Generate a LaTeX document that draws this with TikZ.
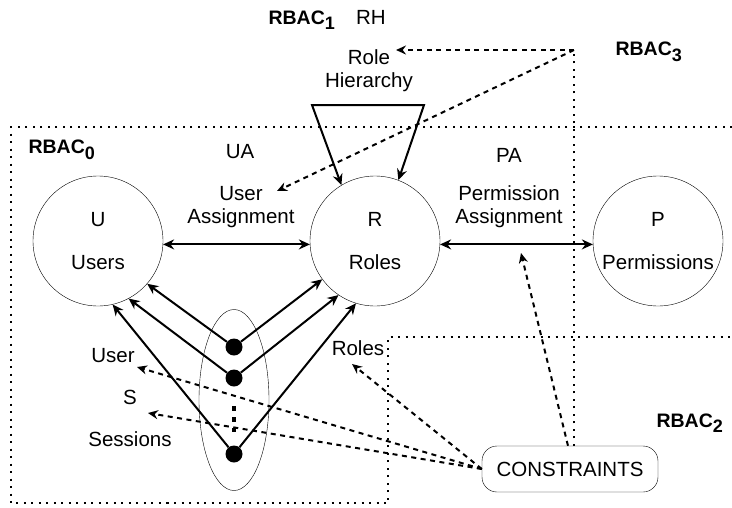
\documentclass[tikz,border=0pt]{standalone}
\usepackage{fontspec}
\setmainfont{Liberation Sans}
\usetikzlibrary{arrows.meta,shapes.geometric,positioning}

\newcommand{\lowidx}[1]{\raisebox{-5.5pt}{\fontsize{18}{18}\selectfont #1}}

\begin{document}
\begin{tikzpicture}[x=1pt,y=-1pt,
    every node/.style={font=\fontsize{20.5}{23}\selectfont},
    entity/.style={draw, circle, minimum size=130pt, inner sep=0pt, align=center},
    tag/.style={font=\fontsize{19.5}{22}\selectfont\bfseries, anchor=west},
    link/.style={line width=2pt, {Stealth[length=11pt,width=10pt]}-{Stealth[length=11pt,width=10pt]}},
    sarrow/.style={line width=2pt, -{Stealth[length=11pt,width=10pt]}},
    carrow/.style={line width=2pt, dash pattern=on 5pt off 4.5pt, -{Stealth[length=10pt,width=9pt]}},
    region/.style={line width=2pt, dash pattern=on 2pt off 5.5pt}]
      \useasboundingbox (0,0) rectangle (732,507);

      % Entity circles
      \node[entity] (U) at (98,241) {U\\[20pt]Users};
      \node[entity] (R) at (375,241) {R\\[20pt]Roles};
      \node[entity] (P) at (658,241) {P\\[20pt]Permissions};

      % Sessions
      \node[draw, ellipse, minimum width=70pt, minimum height=181pt] (sess) at (234,400) {};
      \node[circle, fill, minimum size=17pt, inner sep=0pt] (s1) at (234,347) {};
      \node[circle, fill, minimum size=17pt, inner sep=0pt] (s2) at (234,378) {};
      \node[circle, fill, minimum size=17pt, inner sep=0pt] (s3) at (234,454) {};
      \draw[line width=4.5pt, dash pattern=on 4.5pt off 6.5pt] (234,406) -- (234,432);

      \node[draw, rounded corners=15pt, minimum width=176pt, minimum height=46pt] (cons) at (570,469) {CONSTRAINTS};

      % Labels
      \node[tag] (rbac0) at (25,150) {RBAC\lowidx{0}};
      \node[tag] (rbac1) at (265,20) {RBAC\lowidx{1}};
      \node[tag] (rbac2) at (653,423) {RBAC\lowidx{2}};
      \node[tag] (rbac3) at (612,52) {RBAC\lowidx{3}};
      \node (rh) at (371,17) {RH};
      \node[align=center] (rhier) at (369,71) {Role\\Hierarchy};
      \node (ua) at (240,152) {UA};
      \node[align=center] (uassign) at (241,207) {User\\Assignment};
      \node (pa) at (509,155) {PA};
      \node[align=center] (passign) at (509,207) {Permission\\Assignment};
      \node (luser) at (113,356) {User};
      \node (ls) at (130,397) {S};
      \node (lsess) at (130,439) {Sessions};
      \node (lroles) at (358,348) {Roles};

      % Region borders
      \draw[region] (732,127) -- (11,127) -- (11,503) -- (388,503) -- (388,337) -- (732,337);
      \coordinate (corner) at (574,50);
      \draw[region] (cons.north -| corner) -- (corner);

      % Assignments
      \draw[link] (U.-3) -- (R.-177);
      \draw[link] (R.-3) -- (P.-177);

      % Role hierarchy
      \coordinate (hl) at (312,105);
      \coordinate (hr) at (424,105);
      \draw[link] (R.121) -- (hl) -- (hr) -- (R.69);

      % Session arrows
      \draw[sarrow] (s1) -- (U.-41);
      \draw[sarrow] (s2) -- (U.-62);
      \draw[sarrow] (s3) -- (U.-77);
      \draw[sarrow] (s1) -- (R.-144);
      \draw[sarrow] (s2) -- (R.-124);
      \draw[sarrow] (s3) -- (R.-107);

      % Constraint arrows
      \coordinate (toRH) at (396,50);
      \coordinate (toUA) at (277,191);
      \coordinate (toPA) at (521,253);
      \coordinate (toUser) at (137,367);
      \coordinate (toSess) at (148,413);
      \coordinate (toRoles) at (352,364);
      \draw[carrow] (corner) -- (toRH);
      \draw[carrow] (corner) -- (toUA);
      \draw[carrow] ([xshift=-2pt]cons.north) -- (toPA);
      \draw[carrow] (cons.west) -- (toUser);
      \draw[carrow] (cons.west) -- (toSess);
      \draw[carrow] (cons.west) -- (toRoles);
    \end{tikzpicture}
\end{document}
